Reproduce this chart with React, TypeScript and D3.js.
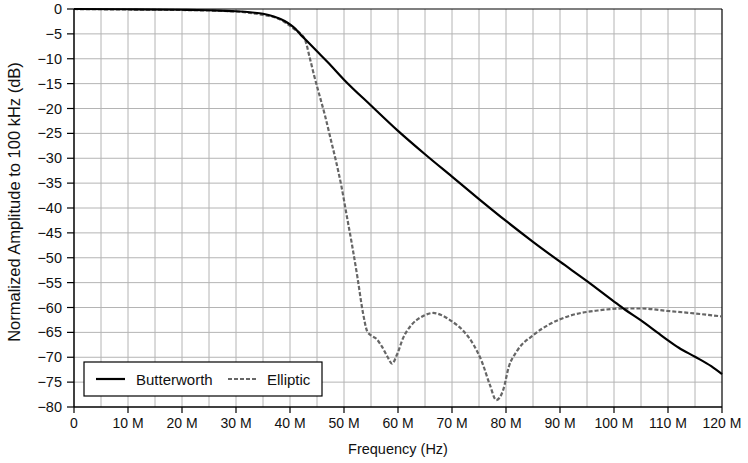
import React from "react";
import * as d3 from "d3";

const butterFreq = [0, 10, 20, 25, 30, 33, 35, 37, 39, 40, 41, 42, 43, 45, 47, 50, 55, 60, 65, 70, 75, 80, 85, 90, 95, 100, 102, 105, 108, 110, 112, 115, 118, 120];
const butterDb = [0, -0.05, -0.15, -0.25, -0.45, -0.7, -0.95, -1.5, -2.4, -3.1, -4.0, -5.2, -6.3, -8.5, -10.7, -14.2, -19.4, -24.5, -29.2, -33.7, -38.2, -42.6, -46.8, -50.8, -54.7, -58.8, -60.4, -62.6, -65.0, -66.6, -68.1, -69.9, -71.8, -73.4];

const ellipFreq = [0, 10, 20, 30, 35, 38, 40, 41, 42, 42.8, 43.7, 44.5, 45.5, 46.5, 47.5, 48.5, 49.5, 50.5, 51.5, 52.5, 53.5, 54.3, 55, 56, 57, 58, 58.9, 59.8, 61, 62.5, 64.5, 66.5, 68, 70, 72, 74, 75.5, 77, 78.2, 79.5, 80.5, 82, 85, 88, 92, 97, 102, 105, 110, 115, 120];
const ellipDb = [0, -0.1, -0.2, -0.5, -1.2, -2.0, -3.4, -4.2, -5.0, -6.2, -10, -13.5, -17.5, -21.5, -26, -30.5, -35.5, -41.5, -47.5, -54, -61, -64.8, -65.6, -66.3, -67.8, -69.8, -71.3, -69.5, -66, -63.5, -61.8, -61.1, -61.5, -62.8, -64.6, -67.5, -70.8, -75.5, -78.6, -76.5, -72, -68.8, -65.6, -63.4, -61.6, -60.6, -60.2, -60.2, -60.7, -61.2, -61.8];

const xTicks = [0, 10, 20, 30, 40, 50, 60, 70, 80, 90, 100, 110, 120];
const xTickLabels = ["0", "10 M", "20 M", "30 M", "40 M", "50 M", "60 M", "70 M", "80 M", "90 M", "100 M", "110 M", "120 M"];
const yTicks = [0, -5, -10, -15, -20, -25, -30, -35, -40, -45, -50, -55, -60, -65, -70, -75, -80];
const xGrid = d3.range(5, 120, 5);
const seriesNames = ["Butterworth", "Elliptic"];

const W = 748, H = 463;
const L = 74, R = 722, T = 9, B = 407;
const FONT = "'Liberation Sans', Arial, Helvetica, sans-serif";

export default function App() {
  const x = d3.scaleLinear().domain([0, 120]).range([L, R]);
  const y = d3.scaleLinear().domain([-80, 0]).range([B, T]);
  const line = d3.line<[number, number]>().x(d => x(d[0])).y(d => y(d[1])).curve(d3.curveMonotoneX);
  const bData = butterFreq.map((f, i) => [f, butterDb[i]] as [number, number]);
  const eData = ellipFreq.map((f, i) => [f, ellipDb[i]] as [number, number]);
  const fmtY = (v: number) => (v < 0 ? "\u2212" + Math.abs(v) : String(v));

  return (
    <svg width={W} height={H} style={{ position: "absolute", left: 0, top: 0, background: "#fff" }} fontFamily={FONT}>
      <rect x={0} y={0} width={W} height={H} fill="#fff" />
      {xGrid.map(v => (
        <line key={"gx" + v} x1={x(v)} x2={x(v)} y1={T} y2={B} stroke="#b4b4b4" strokeWidth={1} />
      ))}
      {yTicks.slice(1, -1).map(v => (
        <line key={"gy" + v} x1={L} x2={R} y1={y(v)} y2={y(v)} stroke="#b4b4b4" strokeWidth={1} />
      ))}
      <line x1={L} x2={R} y1={T} y2={T} stroke="#000" strokeWidth={1.2} />
      <line x1={R} x2={R} y1={T} y2={B} stroke="#000" strokeWidth={1.2} />
      <line x1={L} x2={L} y1={T} y2={B} stroke="#000" strokeWidth={1.5} />
      <line x1={L} x2={R} y1={B} y2={B} stroke="#000" strokeWidth={1.5} />
      {xTicks.map((v, i) => (
        <g key={"xt" + v}>
          <line x1={x(v)} x2={x(v)} y1={B} y2={B + 6} stroke="#000" strokeWidth={1.2} />
          <text x={x(v)} y={B + 21} textAnchor="middle" fontSize={14} fill="#111">{xTickLabels[i]}</text>
        </g>
      ))}
      {yTicks.map(v => (
        <g key={"yt" + v}>
          <line x1={L - 7} x2={L} y1={y(v)} y2={y(v)} stroke="#000" strokeWidth={1.2} />
          <text x={L - 12} y={y(v) + 5} textAnchor="end" fontSize={14.5} fill="#111">{fmtY(v)}</text>
        </g>
      ))}
      <path d={line(eData) || ""} fill="none" stroke="#666" strokeWidth={2.2} strokeDasharray="4,2" />
      <path d={line(bData) || ""} fill="none" stroke="#000" strokeWidth={2.2} />
      <text x={398} y={454} textAnchor="middle" fontSize={14.5} fill="#111">Frequency (Hz)</text>
      <text transform={`translate(20,202) rotate(-90)`} textAnchor="middle" fontSize={16.5} fill="#111">
        Normalized Amplitude to 100 kHz (dB)
      </text>
      <g>
        <rect x={84} y={362} width={238} height={34} fill="#fff" stroke="#000" strokeWidth={1.2} />
        <line x1={96} x2={125} y1={379} y2={379} stroke="#000" strokeWidth={2.2} />
        <text x={136} y={384.5} fontSize={15} fill="#111">{seriesNames[0]}</text>
        <line x1={228} x2={258} y1={379} y2={379} stroke="#666" strokeWidth={2.2} strokeDasharray="4,2" />
        <text x={267} y={384.5} fontSize={15} fill="#111">{seriesNames[1]}</text>
      </g>
    </svg>
  );
}
